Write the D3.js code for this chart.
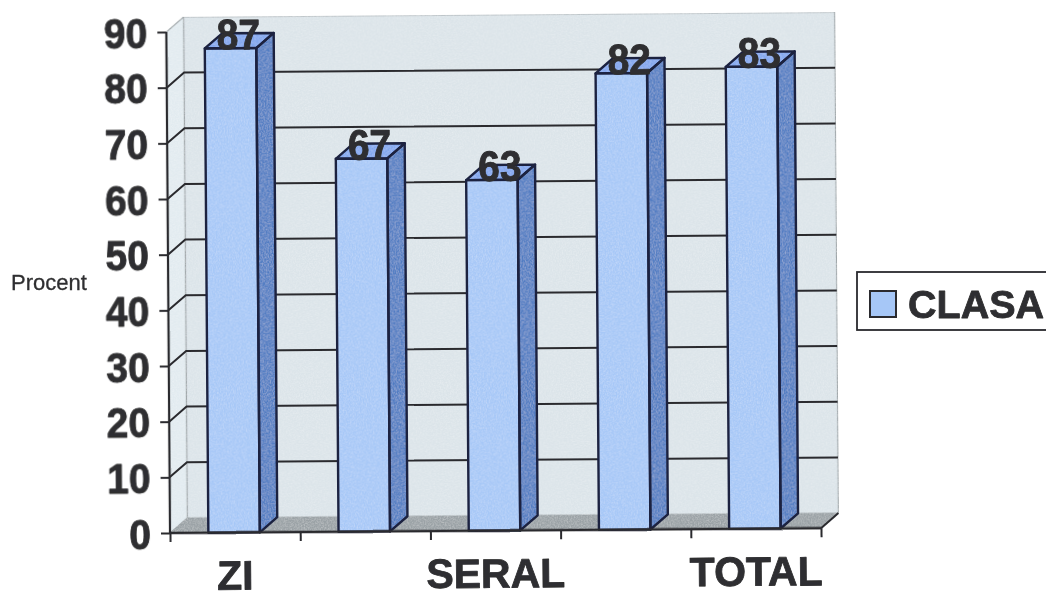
<!DOCTYPE html>
<html><head><meta charset="utf-8">
<style>html,body{margin:0;padding:0;background:#fff;overflow:hidden}svg{display:block}
text{font-family:"Liberation Sans",Arial,sans-serif;fill:#2e2e30}</style>
<script src="https://cdn.jsdelivr.net/npm/d3@7"></script></head><body>
<svg id="c" width="1046" height="591"></svg>
<script>
const categories = ["ZI", "b", "SERAL", "d", "TOTAL"];
const categoryLabels = ["ZI", "", "SERAL", "", "TOTAL"];
const seriesClasa = [87, 67, 63, 82, 83];
const yTicks = [0,10,20,30,40,50,60,70,80,90];
const seriesName = "CLASA";
const axisTitle = "Procent";

const pLeft=170,pRight=821,pBottom=533,pTop=32,dx=17.5,dy=-15,barW=51.5;
const ink="#2a2a2e", barInk="#1b2140";
const svg=d3.select("#c");
const defs=svg.append("defs");
const f=defs.append("filter").attr("id","soft").attr("x",0).attr("y",0).attr("width","100%").attr("height","100%");
f.append("feGaussianBlur").attr("stdDeviation",0.5);
const tex=defs.append("filter").attr("id","grain").attr("x",0).attr("y",0).attr("width","100%").attr("height","100%");
tex.append("feTurbulence").attr("type","fractalNoise").attr("baseFrequency",0.7).attr("numOctaves",2).attr("seed",4).attr("result","n");
tex.append("feColorMatrix").attr("in","n").attr("type","matrix").attr("values","0 0 0 0 1  0 0 0 0 1  0 0 0 0 1  0.55 0 0 0 -0.2").attr("result","w");
tex.append("feComposite").attr("in","w").attr("in2","SourceAlpha").attr("operator","in").attr("result","wc");
tex.append("feMerge").selectAll("feMergeNode").data(["SourceGraphic","wc"]).join("feMergeNode").attr("in",d=>d);

const y=d3.scaleLinear().domain([0,90]).range([pBottom,pTop]);
const x=d3.scaleBand().domain(categories).range([pLeft,pRight]);
const xEdge=d3.scaleLinear().domain([0,categories.length]).range([pLeft,pRight]);

const root=svg.append("g").attr("filter","url(#soft)");
const g=root.append("g").attr("transform",`rotate(-0.42 ${pLeft} ${pBottom})`);
const pts=a=>a.map(p=>p.join(",")).join(" ");
const heavy=sel=>sel.attr("stroke","#2e2e30").attr("stroke-width",0.8).attr("stroke-linejoin","round");

// walls and floor
const walls=g.append("g").attr("filter","url(#grain)");
walls.append("polygon").attr("points",pts([[pLeft,pBottom],[pLeft,pTop],[pLeft+dx,pTop+dy],[pLeft+dx,pBottom+dy]])).attr("fill","#e2ebf0").attr("stroke","#9fa6a9").attr("stroke-width",1.2);
walls.append("polygon").attr("points",pts([[pLeft+dx,pBottom+dy],[pLeft+dx,pTop+dy],[pRight+dx,pTop+dy],[pRight+dx,pBottom+dy]])).attr("fill","#dbe4e9").attr("stroke","#9fa6a9").attr("stroke-width",1.2);
walls.append("polygon").attr("points",pts([[pLeft,pBottom],[pLeft+dx,pBottom+dy],[pRight+dx,pBottom+dy],[pRight,pBottom]])).attr("fill","#9aa1a5");

// gridlines
const grid=g.append("g").attr("fill","none").attr("stroke",ink).attr("stroke-width",2);
yTicks.filter(t=>t>0&&t<90).forEach(t=>{
  grid.append("polyline").attr("points",pts([[pLeft,y(t)],[pLeft+dx,y(t)+dy],[pRight+dx,y(t)+dy]]));
});
g.append("polyline").attr("fill","none").attr("stroke",ink).attr("stroke-width",2)
 .attr("points",pts([[pRight,pBottom],[pRight+dx,pBottom+dy]]));

// bars
const bars=g.append("g").selectAll("g").data(categories).join("g");
const bx=(d)=>x(d)+x.bandwidth()/2-barW/2-1;
const val=(i)=>seriesClasa[i];
const scaled=(sel,tx,ty)=>sel.attr("x",0).attr("y",0).attr("dy",null).attr("transform",`translate(${tx},${ty}) scale(1,1.09)`);
bars.each(function(d,i){
  const s=d3.select(this),x0=bx(d),x1=x0+barW,yt=y(val(i)),yb=y(0);
  const side=[[x1,yb],[x1,yt],[x1+dx,yt+dy],[x1+dx,yb+dy]];
  const lid=[[x0,yt],[x0+dx,yt+dy],[x1+dx,yt+dy],[x1,yt]];
  const fills=s.append("g").attr("filter","url(#grain)");
  fills.append("polygon").attr("points",pts(side)).attr("fill","#4f7cc2");
  fills.append("polygon").attr("points",pts(lid)).attr("fill","#7fa5ee");
  fills.append("rect").attr("x",x0).attr("y",yt).attr("width",barW).attr("height",yb-yt).attr("fill","#a6c7f7");
  const lines=s.append("g").attr("fill","none").attr("stroke",barInk).attr("stroke-width",2.4).attr("stroke-linejoin","round");
  lines.append("polygon").attr("points",pts(side));
  lines.append("polygon").attr("points",pts(lid));
  lines.append("rect").attr("x",x0).attr("y",yt).attr("width",barW).attr("height",yb-yt);
  s.append("text").attr("text-anchor","middle").attr("font-weight","bold").attr("font-size",39)
   .call(heavy).call(scaled,x0+barW/2+8,yt+1).text(val(i));
});

// axes
const ay=d3.axisLeft(y).tickValues(yTicks).tickSize(9).tickPadding(8);
const ya=g.append("g").attr("transform",`translate(${pLeft},0)`).call(ay);
ya.selectAll("text").attr("font-size",39).attr("font-weight","bold")
  .attr("font-family",'"Liberation Sans",Arial,sans-serif')
  .call(heavy)
  .each(function(t){d3.select(this).call(scaled,-19,15);});
const ax=d3.axisBottom(xEdge).tickValues(d3.range(categories.length+1)).tickSize(9).tickFormat("");
const xa=g.append("g").attr("transform",`translate(0,${pBottom})`).call(ax);
[ya,xa].forEach(a=>{a.selectAll("path").remove();a.selectAll("line").attr("stroke",ink).attr("stroke-width",2);});
ya.append("line").attr("x1",0).attr("x2",0).attr("y1",y(90)).attr("y2",y(0)).attr("stroke",ink).attr("stroke-width",2.2);
xa.append("line").attr("x1",pLeft).attr("x2",pRight).attr("y1",0).attr("y2",0).attr("stroke",ink).attr("stroke-width",2.4);

g.append("g").selectAll("text").data(categories).join("text")
 .attr("x",d=>x(d)+x.bandwidth()/2).attr("y",590).attr("text-anchor","middle")
 .attr("font-weight","bold").attr("font-size",41).call(heavy).text((d,i)=>categoryLabels[i]);

// axis title
root.append("text").attr("x",11).attr("y",290).attr("font-size",22).attr("stroke","#333").attr("stroke-width",0.3).text(axisTitle);

// legend
const lg=root.append("g");
lg.append("rect").attr("x",857).attr("y",272).attr("width",210).attr("height",58).attr("fill","#fff").attr("stroke",ink).attr("stroke-width",1.8);
lg.append("rect").attr("x",870).attr("y",291).attr("width",26).attr("height",26).attr("fill","#a6c7f7").attr("stroke",ink).attr("stroke-width",2);
lg.append("text").attr("x",908).attr("y",318).attr("font-weight","bold").attr("font-size",39.5).call(heavy).text(seriesName);
</script></body></html>
